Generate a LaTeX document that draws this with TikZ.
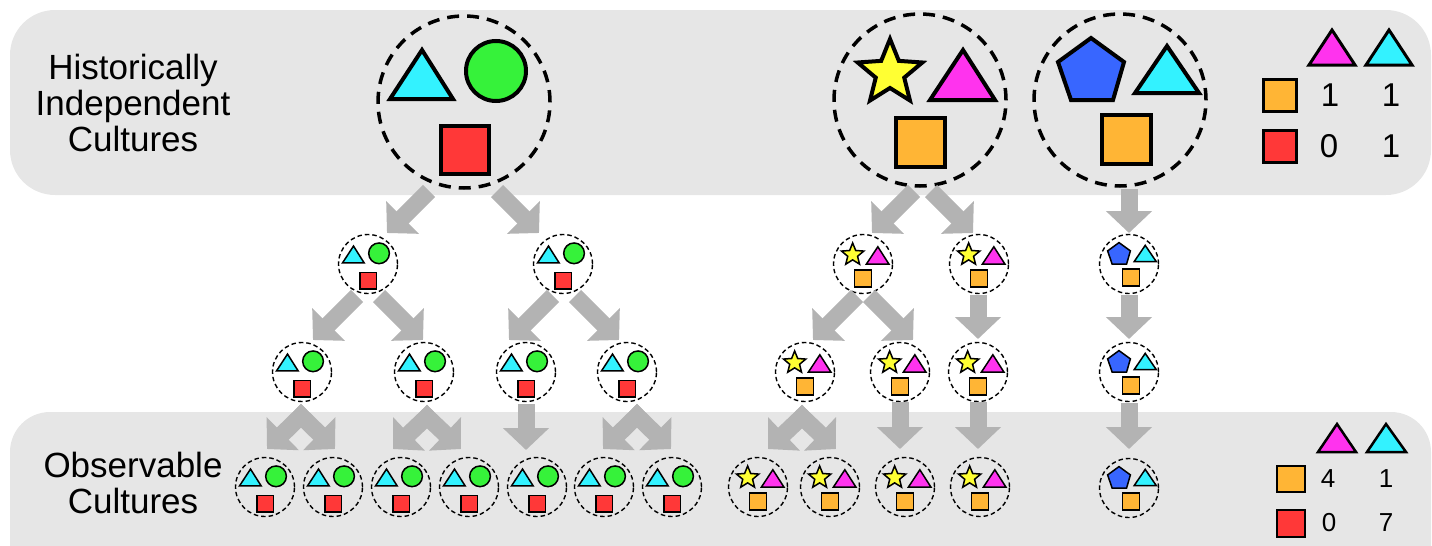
\documentclass[tikz,border=0pt]{standalone}
\usepackage{fontspec}
\setmainfont{Liberation Sans}
\usetikzlibrary{arrows.meta,calc}
\definecolor{band}{HTML}{E6E6E6}
\definecolor{arrowgray}{HTML}{B3B3B3}
\definecolor{cy}{HTML}{33F2FF}
\definecolor{gr}{HTML}{36F23A}
\definecolor{rd}{HTML}{FF3838}
\definecolor{og}{HTML}{FFB535}
\definecolor{ye}{HTML}{FFFF33}
\definecolor{mg}{HTML}{FF33EE}
\definecolor{bl}{HTML}{3866FF}
\tikzset{
  bigc/.style={circle, draw, line width=3.5pt, dash pattern=on 12pt off 8pt, minimum size=172pt, inner sep=0pt},
  smallc/.style={circle, draw, line width=1.4pt, dash pattern=on 4.5pt off 3pt, minimum size=59pt, inner sep=0pt},
  arr/.style={draw=arrowgray, line width=17pt, line cap=butt, -{Triangle[length=22pt,width=45pt]}},
  lbl/.style={font=\fontsize{35}{36}\selectfont, align=center, inner sep=0pt},
  numA/.style={font=\fontsize{33}{36}\selectfont, inner sep=0pt},
  numB/.style={font=\fontsize{26}{30}\selectfont, inner sep=0pt},
}
\newcommand\shpGreen[3]{%
  \begin{scope}[shift={(#1.center)},scale=#2,line width=#3]
    \filldraw[fill=cy] (-74,-3) -- (-11,-3) -- (-42,-52) -- cycle;
    \filldraw[fill=gr] (32,-31) circle[radius=30];
    \filldraw[fill=rd] (-23,24) rectangle (25,72);
  \end{scope}}
\newcommand\shpStar[3]{%
  \begin{scope}[shift={(#1.center)},scale=#2,line width=#3]
    \filldraw[fill=ye,shift={(-30,-27)}] (-90:34) -- (-54:15) -- (-18:34) -- (18:15) -- (54:34) -- (90:15) -- (126:34) -- (162:15) -- (198:34) -- (234:15) -- cycle;
    \filldraw[fill=mg] (10,0) -- (75,0) -- (43,-50) -- cycle;
    \filldraw[fill=og] (-24.5,17.5) rectangle (24.5,66.5);
  \end{scope}}
\newcommand\shpPent[3]{%
  \begin{scope}[shift={(#1.center)},scale=#2,line width=#3]
    \filldraw[fill=bl] (-29,-62) -- (4,-38) -- (-7,0) -- (-49,0) -- (-62,-38) -- cycle;
    \filldraw[fill=cy] (15,-7) -- (79,-7) -- (47,-54) -- cycle;
    \filldraw[fill=og] (-18.5,14.5) rectangle (30.5,63.5);
  \end{scope}}
\begin{document}
\begin{tikzpicture}[x=1pt,y=-1pt]
\useasboundingbox (0,0) rectangle (1432,546);
% bands
\fill[band, rounded corners=45pt] (10,10) rectangle (1431,195);
\fill[band, rounded corners=40pt] (10,412) rectangle (1431,590);
% labels
\node[lbl] (lab1) at (133,103) {Historically\\Independent\\Cultures};
\node[lbl] (lab2) at (133,483) {Observable\\Cultures};
% top circles
\node[bigc] (T1) at (464,102) {};
\node[bigc] (T2) at (920,100) {};
\node[bigc] (T3) at (1120,100) {};
\shpGreen{T1}{1}{4pt}
\shpStar{T2}{1}{4pt}
\shpPent{T3}{1}{4pt}
% row 1
\foreach \n/\x in {A1/368,A2/563}{\node[smallc] (\n) at (\x,264) {}; \shpGreen{\n}{0.345}{1.5pt}}
\foreach \n/\x in {A3/863,A4/979}{\node[smallc] (\n) at (\x,264) {}; \shpStar{\n}{0.345}{1.5pt}}
\node[smallc] (A5) at (1129,264) {}; \shpPent{A5}{0.345}{1.5pt}
% row 2
\foreach \n/\x in {B1/302,B2/424,B3/526,B4/627}{\node[smallc] (\n) at (\x,372) {}; \shpGreen{\n}{0.345}{1.5pt}}
\foreach \n/\x in {B5/805,B6/900,B7/978}{\node[smallc] (\n) at (\x,372) {}; \shpStar{\n}{0.345}{1.5pt}}
\node[smallc] (B8) at (1129,372) {}; \shpPent{B8}{0.345}{1.5pt}
% row 3
\foreach \n/\x in {C1/265,C2/333,C3/401,C4/469,C5/537,C6/604,C7/672}{\node[smallc] (\n) at (\x,487) {}; \shpGreen{\n}{0.345}{1.5pt}}
\foreach \n/\x in {C8/758,C9/830,C10/905,C11/980}{\node[smallc] (\n) at (\x,487) {}; \shpStar{\n}{0.345}{1.5pt}}
\node[smallc] (C12) at (1129,488) {}; \shpPent{C12}{0.345}{1.5pt}
% arrows top -> row 1
\draw[arr] ($(T1)+(-35,89)$) -- ($(A1)+(19,-31)$);
\draw[arr] ($(T1)+(33,89)$) -- ($(A2)+(-24,-31)$);
\draw[arr] ($(T2)+(-6,91)$) -- ($(A3)+(9,-31)$);
\draw[arr] ($(T2)+(11,91)$) -- ($(A4)+(-6,-31)$);
\draw[arr] ($(T3)+(9,89)$) -- ($(A5)+(0,-31)$);
% row 1 -> row 2
\draw[arr] ($(A1)+(-11,32)$) -- ($(B1)+(11,-32)$);
\draw[arr] ($(A1)+(11,32)$) -- ($(B2)+(-1,-32)$);
\draw[arr] ($(A2)+(-10,32)$) -- ($(B3)+(-17,-32)$);
\draw[arr] ($(A2)+(12,32)$) -- ($(B4)+(-8,-32)$);
\draw[arr] ($(A3)+(-6,32)$) -- ($(B5)+(8,-32)$);
\draw[arr] ($(A3)+(6,32)$) -- ($(B6)+(13,-32)$);
\draw[arr] ($(A4)+(-1,31)$) -- ($(B7)+(0,-33)$);
\draw[arr] ($(A5)+(0,31)$) -- ($(B8)+(0,-33)$);
% row 2 -> row 3
\draw[arr] ($(B1)+(5,38)$) -- ($(C1)+(2,-38)$);
\draw[arr] ($(B1)+(-7,38)$) -- ($(C2)+(2,-38)$);
\draw[arr] ($(B2)+(9,39)$) -- ($(C3)+(-8,-38)$);
\draw[arr] ($(B2)+(-3,39)$) -- ($(C4)+(-8,-38)$);
\draw[arr] ($(B3)+(0,32)$) -- ($(C5)+(-11,-37)$);
\draw[arr] ($(B4)+(16,38)$) -- ($(C6)+(-1,-38)$);
\draw[arr] ($(B4)+(4,38)$) -- ($(C7)+(-1,-38)$);
\draw[arr] ($(B5)+(3,39)$) -- ($(C8)+(10,-38)$);
\draw[arr] ($(B5)+(-9,39)$) -- ($(C9)+(6,-38)$);
\draw[arr] ($(B6)+(0,30)$) -- ($(C10)+(-5,-38)$);
\draw[arr] ($(B7)+(0,30)$) -- ($(C11)+(-2,-38)$);
\draw[arr] ($(B8)+(0,31)$) -- ($(C12)+(0,-39)$);
% legend top
\begin{scope}[line width=3pt]
\filldraw[fill=mg] (1309,65) -- (1355,65) -- (1332,30) -- cycle;
\filldraw[fill=cy] (1366,65) -- (1412,65) -- (1389,30) -- cycle;
\filldraw[fill=og] (1263,79) rectangle (1296,111);
\filldraw[fill=rd] (1263,130) rectangle (1296,162);
\end{scope}
\node[numA] (la1) at (1330,95) {1};
\node[numA] (la2) at (1391,95) {1};
\node[numA] (la3) at (1329,146) {0};
\node[numA] (la4) at (1391,146) {1};
% legend bottom
\begin{scope}[line width=2.5pt]
\filldraw[fill=mg] (1318,452) -- (1356,452) -- (1337,424) -- cycle;
\filldraw[fill=cy] (1367,452) -- (1406,452) -- (1386,424) -- cycle;
\filldraw[fill=og] (1277,466) rectangle (1305,492);
\filldraw[fill=rd] (1277,510) rectangle (1305,537);
\end{scope}
\node[numB] (lb1) at (1328,479) {4};
\node[numB] (lb2) at (1386,479) {1};
\node[numB] (lb3) at (1329,523) {0};
\node[numB] (lb4) at (1386,523) {7};
\end{tikzpicture}
\end{document}
